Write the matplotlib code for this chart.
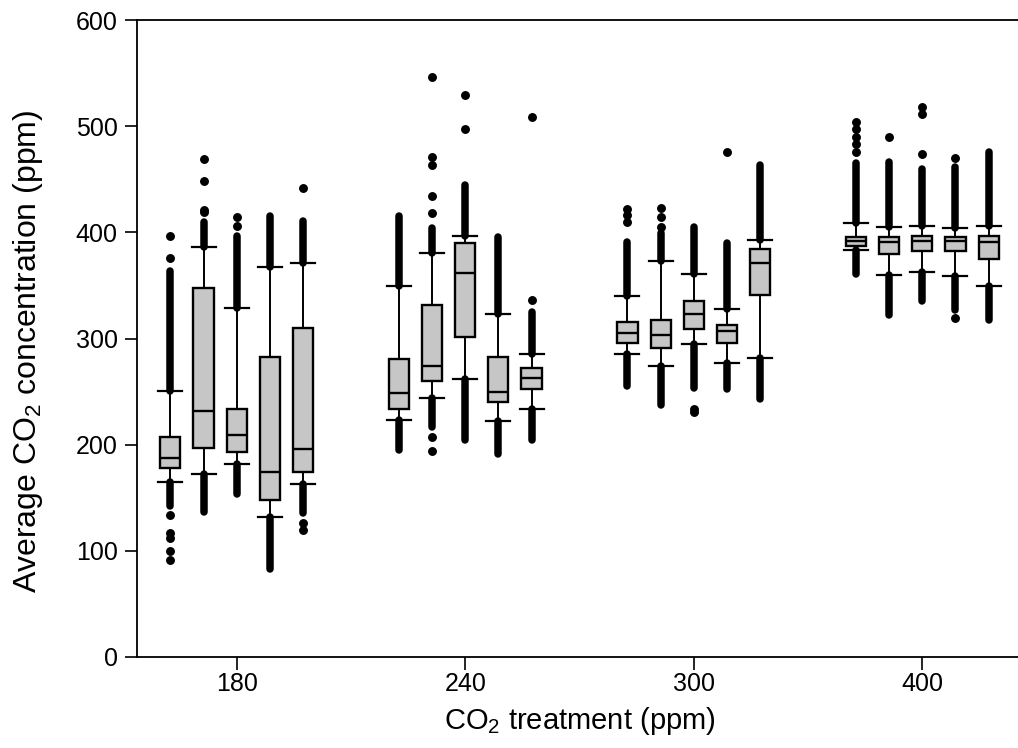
import matplotlib
matplotlib.use('Agg')
import matplotlib.pyplot as plt
import numpy as np

plt.rcParams['font.family'] = ['Liberation Sans', 'DejaVu Sans']
plt.rcParams['mathtext.default'] = 'regular'

# CO2 treatment groups, five chambers each
treatments = ['180', '240', '300', '400']
n_per_group = 5

# box statistics (ppm), in order 180 x5, 240 x5, 300 x5, 400 x5
whishi = [251, 386, 329, 367, 371,
          349, 381, 397, 323, 285,
          340, 373, 361, 328, 393,
          409, 405, 406, 404, 406]
q3 = [207, 348, 234, 283, 310,
      281, 332, 390, 283, 272,
      316, 317, 335, 313, 384,
      396, 396, 397, 396, 397]
med = [187, 232, 209, 174, 196,
       249, 274, 362, 250, 263,
       305, 303, 323, 307, 371,
       392, 391, 392, 392, 391]
q1 = [178, 197, 193, 148, 174,
      234, 260, 301, 240, 252,
      296, 291, 309, 296, 341,
      387, 380, 382, 382, 375]
whislo = [165, 172, 182, 132, 163,
          223, 244, 262, 222, 234,
          285, 274, 295, 277, 282,
          383, 360, 363, 359, 349]

# extent of the continuous runs of outliers beyond the whisker caps
run_hi = [364, 410, 397, 415, 411,
          415, 404, 445, 396, 325,
          391, 399, 405, 390, 463,
          465, 466, 460, 462, 476]
run_lo = [142, 137, 154, 83, 136,
          195, 217, 204, 191, 204,
          255, 237, 253, 252, 243,
          361, 322, 335, 327, 317]

# isolated outliers
fliers = [[376, 397, 134, 117, 112, 100, 91], [419, 421, 448, 469], [406, 414], [], [442, 126, 120],
          [], [418, 434, 463, 471, 546, 207, 194], [497, 529], [], [336, 509],
          [410, 416, 422], [405, 414, 423], [234, 231], [476], [],
          [476, 483, 490, 497, 504], [490], [474, 511, 518], [470, 319], []]

step = 0.145
pos = []
for g in range(len(treatments)):
    for k in range(n_per_group):
        pos.append(g + (k - 2) * step)

stats = []
for i in range(len(pos)):
    stats.append(dict(whislo=whislo[i], q1=q1[i], med=med[i], q3=q3[i],
                      whishi=whishi[i], fliers=fliers[i]))

fig = plt.figure(figsize=(10.18, 7.48), dpi=100)
ax = fig.add_axes([137 / 1018, 91 / 748, 885 / 1018, 637 / 748])

dot = 5.4
# dense outliers drawn as solid columns of overlapping dots
ax.vlines(pos, whishi, run_hi, colors='black', linewidth=dot, capstyle='round', zorder=2)
ax.vlines(pos, run_lo, whislo, colors='black', linewidth=dot, capstyle='round', zorder=2)

ax.bxp(stats, positions=pos, widths=0.088, patch_artist=True, showfliers=True,
       boxprops=dict(facecolor='#c6c6c6', edgecolor='black', linewidth=1.7),
       medianprops=dict(color='black', linewidth=1.7),
       whiskerprops=dict(color='black', linewidth=1.4),
       capprops=dict(color='black', linewidth=1.6),
       flierprops=dict(marker='o', markersize=dot, markerfacecolor='black',
                       markeredgecolor='black', linestyle='none'),
       capwidths=0.105, manage_ticks=False, zorder=3)

ax.set_xlim(-0.436, 3.436)
ax.set_ylim(0, 600)
ax.set_yticks(np.arange(0, 601, 100))
ax.set_xticks(range(len(treatments)))
ax.set_xticklabels(treatments)
ax.tick_params(axis='both', direction='out', length=9, width=1.2, labelsize=18, pad=5)
ax.tick_params(axis='x', pad=2)
for s in ax.spines.values():
    s.set_linewidth(1.3)

ax.set_ylabel('Average CO$_2$ concentration (ppm)', fontsize=23)
ax.yaxis.set_label_coords(-0.104, 0.479)
ax.set_xlabel('CO$_2$ treatment (ppm)', fontsize=21)
ax.xaxis.set_label_coords(0.5, -0.075)

fig.savefig('out.png', dpi=100)
